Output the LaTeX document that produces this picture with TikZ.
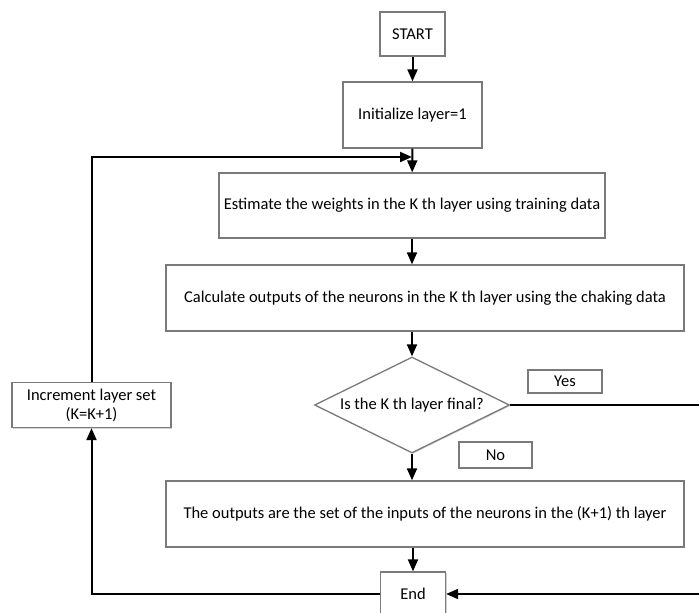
\documentclass[tikz,border=0pt]{standalone}
\usepackage{fontspec}
\setmainfont{Carlito}
\usepackage{tikz}
\usetikzlibrary{arrows.meta,shapes.geometric,shadows}
\definecolor{bordo}{HTML}{7A7A7A}

\tikzset{
  blocco/.style={draw=bordo, line width=1.3pt, fill=white, inner sep=0pt, align=center,
    drop shadow={shadow xshift=1pt, shadow yshift=-1pt, opacity=0.35}},
  rombo/.style={blocco, diamond, aspect=2},
  freccia/.style={line width=2pt, -{Triangle[length=12pt,width=10pt]}},
  testo/.style={font=\fontsize{16.5}{19}\selectfont}
}

\begin{document}
\begin{tikzpicture}[x=1pt, y=-1pt, testo]
  \useasboundingbox (0,0) rectangle (699,613);
  % Blocchi
  \node[blocco, minimum width=65pt, minimum height=44pt] (start) at (412.5,34) {START};
  \node[blocco, minimum width=139pt, minimum height=66pt] (init) at (412.5,115) {Initialize layer=1};
  \node[blocco, minimum width=386pt, minimum height=65pt] (stima) at (412,205.5) {Estimate the weights in the K th layer using training data};
  \node[blocco, minimum width=518pt, minimum height=66pt] (calc) at (425,298) {Calculate outputs of the neurons in the K th layer using the chaking data};
  \node[rombo, minimum width=195pt, minimum height=96pt] (dec) at (412,405) {Is the K th layer final?};
  \node[blocco, minimum width=518pt, minimum height=66pt] (uscite) at (425,514) {The outputs are the set of the inputs of the neurons in the (K+1) th layer};
  \node[blocco, minimum width=65pt, minimum height=44pt] (fine) at (413,594) {End};
  \node[blocco, minimum width=159pt, minimum height=45pt] (incr) at (91.5,405) {Increment layer set\\(K=K+1)};
  % Etichette
  \node[blocco, minimum width=74pt, minimum height=23pt] (si) at (565,381.5) {Yes};
  \node[blocco, minimum width=73pt, minimum height=26pt] (no) at (495.5,455) {No};
  % Punti di appoggio
  \coordinate (ritorno) at (412,157);
  \coordinate (destra) at (720,405);
  % Frecce
  \draw[freccia] (start) -- (init);
  \draw[freccia] (init) -- (stima);
  \draw[freccia] (stima.south) -- (stima.south |- calc.north);
  \draw[freccia] (dec.north |- calc.south) -- (dec.north);
  \draw[freccia] (dec.south) -- (dec.south |- uscite.north);
  \draw[freccia] (fine.north |- uscite.south) -- (fine.north);
  \draw[freccia] (incr.north) |- (ritorno);
  \draw[freccia] (fine.west) -| (incr.south);
  \draw[freccia] (dec.east) -- (destra) |- (fine.east);
\end{tikzpicture}
\end{document}
